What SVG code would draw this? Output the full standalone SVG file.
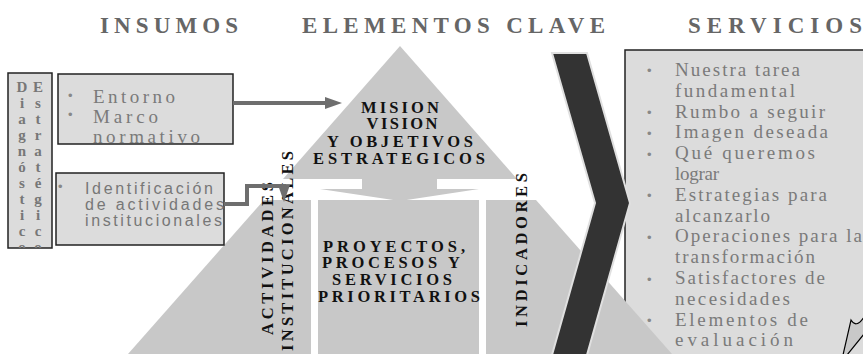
<svg xmlns="http://www.w3.org/2000/svg" width="863" height="354" viewBox="0 0 863 354">
<style>
.title{font-family:"Liberation Serif",serif;font-weight:bold;font-size:23px;fill:#666}
.bx{fill:#dcdcdc;stroke:#222;stroke-width:1.5}
.pyr{fill:#c8c8c8}
.lbl{font-family:"Liberation Serif",serif;font-weight:bold;font-size:16.5px;fill:#111}
.lst{font-family:"Liberation Serif",serif;font-size:19px;fill:#7a7a7a}
.sans{font-family:"Liberation Sans",sans-serif;font-size:16px;fill:#777}
.dg{font-family:"Liberation Serif",serif;font-weight:bold;font-size:15px;fill:#777;text-anchor:middle}
.bul{font-family:"Liberation Sans",sans-serif;font-size:13px;fill:#888}
.con{fill:none;stroke:#6e6e6e;stroke-width:4}
</style>
<defs>
<marker id="ah" viewBox="0 0 17 12" markerWidth="17" markerHeight="12" markerUnits="userSpaceOnUse" refX="5" refY="6" orient="auto">
<path d="M0,0 L17,6 L0,12 Z" fill="#6e6e6e"/>
</marker>
<clipPath id="c1"><rect x="8" y="73" width="44" height="175"/></clipPath>
<clipPath id="c2"><rect x="58" y="74" width="175" height="70"/></clipPath>
</defs>
<rect width="863" height="354" fill="#fff"/>

<g id="titles">
<text class="title" x="100" y="33" textLength="138" lengthAdjust="spacing">INSUMOS</text>
<text class="title" x="302" y="33" textLength="303" lengthAdjust="spacing">ELEMENTOS CLAVE</text>
<text class="title" x="688" y="33" textLength="174" lengthAdjust="spacing">SERVICIOS</text>
</g>

<g id="servicios">
<rect class="bx" x="625" y="50" width="250" height="320"/>
<g class="bul">
<text x="647" y="75">•</text><text x="647" y="117">•</text><text x="647" y="138">•</text><text x="647" y="159">•</text>
<text x="647" y="200">•</text><text x="647" y="242">•</text><text x="647" y="284">•</text><text x="647" y="325">•</text>
</g>
<g class="lst">
<text x="675" y="76" textLength="125" lengthAdjust="spacing">Nuestra tarea</text>
<text x="675" y="96.8" textLength="120" lengthAdjust="spacing">fundamental</text>
<text x="675" y="117.6" textLength="150" lengthAdjust="spacing">Rumbo a seguir</text>
<text x="675" y="138.4" textLength="153" lengthAdjust="spacing">Imagen deseada</text>
<text x="675" y="159.2" textLength="140" lengthAdjust="spacing">Qué queremos</text>
<text x="675" y="180" textLength="44" lengthAdjust="spacing">lograr</text>
<text x="675" y="200.8" textLength="152" lengthAdjust="spacing">Estrategias para</text>
<text x="675" y="221.6" textLength="95" lengthAdjust="spacing">alcanzarlo</text>
<text x="675" y="242.4" textLength="187" lengthAdjust="spacing">Operaciones para la</text>
<text x="675" y="263.2" textLength="140" lengthAdjust="spacing">transformación</text>
<text x="675" y="284" textLength="150" lengthAdjust="spacing">Satisfactores de</text>
<text x="675" y="304.8" textLength="115" lengthAdjust="spacing">necesidades</text>
<text x="675" y="325.6" textLength="133" lengthAdjust="spacing">Elementos de</text>
<text x="675" y="346.4" textLength="118" lengthAdjust="spacing">evaluación</text>
</g>
</g>

<g id="pyramid-top">
<polygon class="pyr" points="400,46 283,179 517,179"/>
<rect class="pyr" x="362" y="178" width="75" height="12"/>
<polygon class="pyr" points="320,189 479,189 400,201"/>
<g class="lbl" text-anchor="middle">
<text x="400" y="113" textLength="78" lengthAdjust="spacing">MISION</text>
<text x="402" y="129" textLength="71" lengthAdjust="spacing">VISION</text>
<text x="400" y="147" textLength="146" lengthAdjust="spacing">Y OBJETIVOS</text>
<text x="399" y="164" textLength="172" lengthAdjust="spacing">ESTRATEGICOS</text>
</g>
</g>

<g id="col-actividades">
<polygon class="pyr" points="264,200 311,200 311,354 128,354"/>
<text class="lbl" text-anchor="middle" transform="translate(273,258.5) rotate(-90)" textLength="153" lengthAdjust="spacing">ACTIVIDADES</text>
<text class="lbl" text-anchor="middle" transform="translate(293,251) rotate(-90)" textLength="200" lengthAdjust="spacing">INSTITUCIONALES</text>
</g>

<g id="col-proyectos">
<rect class="pyr" x="318" y="200" width="161" height="154"/>
<g class="lbl" text-anchor="middle">
<text x="394" y="252" textLength="142" lengthAdjust="spacing">PROYECTOS,</text>
<text x="391" y="268" textLength="138" lengthAdjust="spacing">PROCESOS Y</text>
<text x="392" y="285" textLength="120" lengthAdjust="spacing">SERVICIOS</text>
<text x="399" y="302" textLength="162" lengthAdjust="spacing">PRIORITARIOS</text>
</g>
</g>

<g id="col-indicadores">
<polygon class="pyr" points="486,200 536,200 672,354 486,354"/>
<text class="lbl" text-anchor="middle" transform="translate(527,250) rotate(-90)" textLength="154" lengthAdjust="spacing">INDICADORES</text>
</g>

<g id="chevron">
<polygon points="552,53 587,53 630,203 587,355 552,355 595,203" fill="#333" stroke="#e0e0e0" stroke-width="2"/>
</g>

<g id="diagnostico">
<rect class="bx" x="8" y="73" width="44" height="175"/>
<g clip-path="url(#c1)">
<g class="dg">
<text x="22" y="92">D</text><text x="22" y="108">i</text><text x="22" y="124">a</text><text x="22" y="140">g</text><text x="22" y="156">n</text><text x="22" y="172">ó</text><text x="22" y="188">s</text><text x="22" y="204">t</text><text x="22" y="220">i</text><text x="22" y="236">c</text><text x="22" y="252">o</text>
<text x="38" y="92">E</text><text x="38" y="108">s</text><text x="38" y="124">t</text><text x="38" y="140">r</text><text x="38" y="156">a</text><text x="38" y="172">t</text><text x="38" y="188">é</text><text x="38" y="204">g</text><text x="38" y="220">i</text><text x="38" y="236">c</text><text x="38" y="252">o</text>
</g>
</g>
</g>

<g id="entorno">
<rect class="bx" x="58" y="74" width="175" height="70"/>
<g clip-path="url(#c2)">
<text class="bul" x="68" y="100">•</text>
<text class="bul" x="68" y="119">•</text>
<text class="lst" x="93" y="103" textLength="82" lengthAdjust="spacing">Entorno</text>
<text class="lst" x="93" y="123" textLength="65" lengthAdjust="spacing">Marco</text>
<text class="lst" x="93" y="143" textLength="107" lengthAdjust="spacing">normativo</text>
</g>
</g>

<g id="identificacion">
<rect class="bx" x="56" y="173" width="168" height="72"/>
<text class="bul" x="58" y="191">•</text>
<g class="sans">
<text x="85" y="194" textLength="128" lengthAdjust="spacing">Identificación</text>
<text x="85" y="210" textLength="139" lengthAdjust="spacing">de actividades</text>
<text x="85" y="226" textLength="137" lengthAdjust="spacing">institucionales</text>
</g>
</g>

<g id="connectors">
<path class="con" d="M233,103 H330" marker-end="url(#ah)"/>
<path class="con" d="M224,204 H247 V186 H284 V190" marker-end="url(#ah)"/>
</g>

<g id="pen">
<path d="M851,320 C854,325 858,326 864,317 L864,334 L847,355 L843,355 Z" fill="#c8c8c8" stroke="#000" stroke-width="1.2"/>
</g>
</svg>
